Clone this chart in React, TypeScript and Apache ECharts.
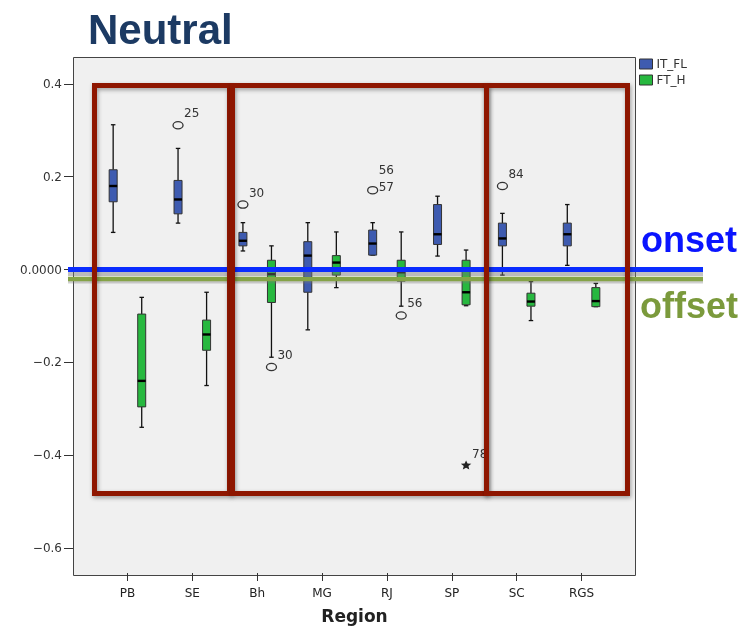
import React, { useEffect, useRef } from 'react';
import * as echarts from 'echarts';

const categories = ['PB', 'SE', 'Bh', 'MG', 'RJ', 'SP', 'SC', 'RGS'];
const seriesNames = ['IT_FL', 'FT_H'];
// [min, Q1, median, Q3, max]
const itFlBoxes = [
  [0.080, 0.146, 0.180, 0.215, 0.312],
  [0.100, 0.120, 0.151, 0.192, 0.261],
  [0.040, 0.051, 0.062, 0.080, 0.101],
  [-0.130, -0.049, 0.030, 0.060, 0.101],
  [0.031, 0.031, 0.056, 0.085, 0.101],
  [0.029, 0.054, 0.076, 0.140, 0.158],
  [-0.012, 0.051, 0.067, 0.100, 0.121],
  [0.009, 0.051, 0.076, 0.100, 0.140],
];
const ftHBoxes = [
  [-0.340, -0.296, -0.240, -0.096, -0.060],
  [-0.250, -0.174, -0.140, -0.109, -0.049],
  [-0.189, -0.071, -0.010, 0.020, 0.051],
  [-0.039, -0.012, 0.015, 0.030, 0.081],
  [-0.079, -0.025, -0.006, 0.020, 0.081],
  [-0.078, -0.076, -0.049, 0.020, 0.042],
  [-0.110, -0.079, -0.069, -0.051, -0.026],
  [-0.080, -0.080, -0.068, -0.039, -0.030],
];
const outlierCats = ['SE', 'Bh', 'RJ', 'SC', 'Bh', 'RJ', 'SP'];
const outlierGroups = [0, 0, 0, 0, 1, 1, 1];
const outlierValues = [0.311, 0.140, 0.171, 0.180, -0.210, -0.099, -0.420];
const outlierLabels = ['25', '30', '56\n57', '84', '30', '56', '78'];
const outlierKinds = ['circle', 'circle', 'circle', 'circle', 'circle', 'circle', 'extreme'];
const yTicks = [-0.6, -0.4, -0.2, 0, 0.2, 0.4];
const yRange = [-0.654, 0.458];

const COLORS = ['#3e5bb0', '#27b83f'];
const AXIS_FONT = '"DejaVu Sans", Verdana, sans-serif';

function groupOffset(g: number, band: number) {
  return (g === 0 ? -1 : 1) * band * 0.22;
}

function makeBoxRender(g: number) {
  return (params: any, api: any) => {
    const ci = api.value(0);
    const band = api.size([1, 0])[0];
    const x = api.coord([ci, 0])[0] + groupOffset(g, band);
    const y = (k: number) => api.coord([ci, api.value(k)])[1];
    const yMin = y(1), yQ1 = y(2), yMed = y(3), yQ3 = y(4), yMax = y(5);
    const bw = 8;
    const cap = 4.5;
    const ls = { stroke: '#111', lineWidth: 1.3 };
    return {
      type: 'group',
      children: [
        { type: 'line', shape: { x1: x, y1: yMax, x2: x, y2: yQ3 }, style: ls },
        { type: 'line', shape: { x1: x, y1: yQ1, x2: x, y2: yMin }, style: ls },
        { type: 'line', shape: { x1: x - cap / 2, y1: yMax, x2: x + cap / 2, y2: yMax }, style: ls },
        { type: 'line', shape: { x1: x - cap / 2, y1: yMin, x2: x + cap / 2, y2: yMin }, style: ls },
        {
          type: 'rect',
          shape: { x: x - bw / 2, y: yQ3, width: bw, height: Math.max(yQ1 - yQ3, 1) },
          style: { fill: COLORS[g], stroke: '#333', lineWidth: 1 },
        },
        { type: 'line', shape: { x1: x - bw / 2, y1: yMed, x2: x + bw / 2, y2: yMed }, style: { stroke: '#000', lineWidth: 2.4 } },
      ],
    };
  };
}

function starPoints(cx: number, cy: number, rx: number, ry: number) {
  const pts: number[][] = [];
  for (let k = 0; k < 10; k++) {
    const a = -Math.PI / 2 + (k * Math.PI) / 5;
    const r = k % 2 === 0 ? 1 : 0.45;
    pts.push([cx + Math.cos(a) * rx * r, cy + Math.sin(a) * ry * r]);
  }
  return pts;
}

function outlierRender(params: any, api: any) {
  const i = params.dataIndex;
  const ci = api.value(0);
  const g = api.value(2);
  const band = api.size([1, 0])[0];
  const p = api.coord([ci, api.value(1)]);
  const x = p[0] + groupOffset(g, band);
  const yy = p[1];
  const children: any[] = [];
  if (outlierKinds[i] === 'extreme') {
    children.push({ type: 'polygon', shape: { points: starPoints(x, yy + 1, 5.5, 5) }, style: { fill: '#222' } });
  } else {
    children.push({ type: 'ellipse', shape: { cx: x, cy: yy, rx: 5, ry: 3.6 }, style: { fill: 'none', stroke: '#333', lineWidth: 1.3 } });
  }
  const lines = outlierLabels[i].split('\n');
  lines.forEach((t, k) => {
    const dy = lines.length === 1 ? -12 : -3 - (lines.length - 1 - k) * 17;
    children.push({
      type: 'text',
      x: x + 6,
      y: yy + dy + (outlierKinds[i] === 'extreme' ? 2 : 0),
      style: { text: t, fill: '#333', font: `12px ${AXIS_FONT}`, align: 'left', verticalAlign: 'middle' },
    });
  });
  return { type: 'group', children };
}

export default function App() {
  const ref = useRef<HTMLDivElement>(null);
  useEffect(() => {
    if (!ref.current) return;
    const chart = echarts.init(ref.current, undefined, { renderer: 'svg' });
    const boxData = [itFlBoxes, ftHBoxes].map((arr) => arr.map((b, i) => [i, ...b]));
    const outIdx = [0, 1].map((g) => outlierCats.map((_, i) => i).filter((i) => outlierGroups[i] === g));
    const outData = outIdx.map((idxs, g) => idxs.map((i) => [categories.indexOf(outlierCats[i]), outlierValues[i], g]));

    const redRect = (x: number, w: number) => ({
      type: 'rect',
      z: 60,
      shape: { x, y: 85.5, width: w, height: 408 },
      style: {
        fill: 'transparent',
        stroke: '#8e1700',
        lineWidth: 5,
        shadowBlur: 4,
        shadowColor: 'rgba(0,0,0,0.35)',
        shadowOffsetX: 1,
        shadowOffsetY: 2,
      },
    });

    chart.setOption({
      animation: false,
      grid: { left: 95, right: 130, top: 57, bottom: 54, containLabel: false },
      legend: {
        data: seriesNames,
        orient: 'vertical',
        left: 639,
        top: 58,
        icon: 'rect',
        itemWidth: 13,
        itemHeight: 10,
        itemGap: 4,
        selectedMode: false,
        itemStyle: { borderColor: '#333', borderWidth: 1 },
        textStyle: { fontSize: 12, fontFamily: AXIS_FONT, color: '#333', padding: [0, 0, 0, -1] },
        padding: 0,
      },
      xAxis: {
        type: 'category',
        data: categories,
        axisLine: { show: false, onZero: false },
        axisTick: { show: true, alignWithLabel: true, length: 8, lineStyle: { color: '#333' } },
        axisLabel: { fontSize: 12, fontFamily: AXIS_FONT, color: '#222', margin: 14 },
        splitLine: { show: false },
        name: 'Region',
        nameLocation: 'middle',
        nameGap: 34,
        nameTextStyle: { fontSize: 17, fontWeight: 'bold', fontFamily: AXIS_FONT, color: '#222' },
      },
      yAxis: {
        type: 'value',
        min: yRange[0],
        max: yRange[1],
        offset: 22,
        axisLine: { show: false, onZero: false },
        splitLine: { show: false },
        axisTick: { show: true, length: 9, customValues: yTicks, lineStyle: { color: '#333' } },
        axisLabel: {
          customValues: yTicks,
          fontSize: 12,
          fontFamily: AXIS_FONT,
          color: '#333',
          margin: 11,
          formatter: (v: number) => {
            if (Math.abs(v) < 1e-9) return '0.0000';
            return (v < 0 ? '\u2212' : '') + Math.abs(v).toFixed(1);
          },
        },
      },
      series: [
        {
          name: seriesNames[0],
          type: 'custom',
          itemStyle: { color: COLORS[0] },
          data: boxData[0],
          encode: { x: 0, y: [1, 2, 3, 4, 5] },
          renderItem: makeBoxRender(0),
          z: 3,
        },
        {
          name: seriesNames[1],
          type: 'custom',
          itemStyle: { color: COLORS[1] },
          data: boxData[1],
          encode: { x: 0, y: [1, 2, 3, 4, 5] },
          renderItem: makeBoxRender(1),
          z: 3,
        },
        ...[0, 1].map((g) => ({
          name: seriesNames[g] + ' outliers',
          type: 'custom',
          data: outData[g],
          encode: { x: 0, y: 1 },
          renderItem: (params: any, api: any) =>
            outlierRender({ ...params, dataIndex: outIdx[g][params.dataIndex] }, api),
          z: 4,
        })),
      ],
      graphic: [
        {
          type: 'rect',
          z: -1,
          silent: true,
          shape: { x: 73.5, y: 57.5, width: 562, height: 518 },
          style: { fill: '#f0f0f0', stroke: '#444', lineWidth: 1 },
        },
        {
          type: 'text',
          z: 50,
          x: 88,
          y: 29.5,
          style: {
            text: 'Neutral',
            font: 'bold 42px "Liberation Sans", Arial, sans-serif',
            fill: '#1c3a63',
            verticalAlign: 'middle',
          },
        },
        // shadow strip between / below the lines
        { type: 'rect', z: 49, silent: true, shape: { x: 68, y: 271, width: 635, height: 5 }, style: { fill: 'rgba(120,120,120,0.45)' } },
        { type: 'rect', z: 49, silent: true, shape: { x: 68, y: 281, width: 635, height: 2.5 }, style: { fill: 'rgba(120,120,120,0.35)' } },
        { type: 'rect', z: 50, silent: true, shape: { x: 68, y: 276.7, width: 635, height: 4.6 }, style: { fill: '#85a347' } },
        { type: 'rect', z: 51, silent: true, shape: { x: 68, y: 267, width: 635, height: 5 }, style: { fill: '#0a2cff' } },
        {
          type: 'text',
          z: 50,
          x: 641,
          y: 239.5,
          style: { text: 'onset', font: 'bold 36px "Liberation Sans", Arial, sans-serif', fill: '#0a14ff', verticalAlign: 'middle' },
        },
        {
          type: 'text',
          z: 50,
          x: 640,
          y: 305.5,
          style: { text: 'offset', font: 'bold 36px "Liberation Sans", Arial, sans-serif', fill: '#7b9a3c', verticalAlign: 'middle' },
        },
        redRect(94.5, 135),
        redRect(232.5, 254),
        redRect(486.5, 141),
      ],
    });
    return () => chart.dispose();
  }, []);
  return <div ref={ref} style={{ position: 'fixed', left: 0, top: 0, width: 744, height: 629 }} />;
}
